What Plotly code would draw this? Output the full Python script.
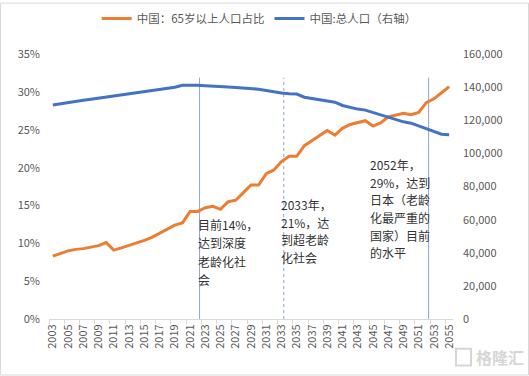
import plotly.graph_objects as go

# ---------------- data ----------------
years = list(range(2003, 2056))
elderly_share = [  # 中国：65岁以上人口占比 (%)
    8.3, 8.7, 9.0, 9.2, 9.3, 9.5, 9.7, 10.1, 9.1, 9.4,
    9.7, 10.0, 10.4, 10.8, 11.3, 11.8, 12.4, 12.7, 14.2, 14.2,
    14.7, 14.9, 14.5, 15.5, 15.7, 16.7, 17.7, 17.7, 19.2, 19.7,
    20.8, 21.5, 21.5, 22.9, 23.6, 24.3, 24.9, 24.3, 25.2, 25.7,
    26.0, 26.2, 25.5, 25.9, 26.7, 26.9, 27.2, 27.0, 27.3, 28.6,
    29.1, 29.9, 30.7,
]
total_pop = [  # 中国:总人口（右轴）(万人)
    129300, 129900, 130600, 131300, 132100, 132800, 133500, 134100, 134700, 135400,
    136100, 136800, 137500, 138300, 139000, 139500, 140000, 141200, 141300, 141200,
    140900, 140800, 140500, 140200, 139900, 139600, 139200, 138800, 138000, 137200,
    136500, 136100, 135900, 134000, 133300, 132500, 131600, 131000, 129000, 127900,
    126800, 126200, 124800, 123500, 122000, 120500, 119100, 118300, 116600, 114600,
    113000, 111600, 111300,
]
tick_years = years[::2]
tick_labels = [str(y) for y in tick_years]
marker_years = [2022.25, 2033.3, 2052.3]
marker_dash = ["solid", "dot", "solid"]
note_texts = [
    ["目前14%，", "达到深度", "老龄化社", "会"],
    ["2033年，", "21%，达", "到超老龄", "化社会"],
    ["2052年，", "29%，达到", "日本（老龄", "化最严重的", "国家）目前", "的水平"],
]
series_names = ["中国：65岁以上人口占比", "中国:总人口（右轴）"]

# ---------------- layout geometry ----------------
W, H = 529, 376
L, R, T, B = 49, 76, 52, 57
PW, PH = W - L - R, H - T - B


def px_x(px):
    return (px - L) / PW


def px_y(py):
    return (H - B - py) / PH


note_pos = [(196, 223.3, 18.7), (279, 203.3, 18.0), (367.5, 163.3, 17.8)]

FONT = "Noto Sans CJK SC, Liberation Sans, sans-serif"
GRAY = "#595959"

fig = go.Figure()
fig.add_trace(go.Scatter(
    x=years, y=elderly_share, name=series_names[0], mode="lines",
    line=dict(color="#ED7D31", width=3), yaxis="y"))
fig.add_trace(go.Scatter(
    x=years, y=total_pop, name=series_names[1], mode="lines",
    line=dict(color="#4472C4", width=3), yaxis="y2"))

shapes = []
for yr, dsh in zip(marker_years, marker_dash):
    shapes.append(dict(type="line", xref="x", yref="y", x0=yr, x1=yr, y0=0, y1=31.9,
                       line=dict(color="#8EA5D3", width=1, dash=dsh), layer="below"))
# outer chart border
shapes.append(dict(type="rect", xref="paper", yref="paper",
                   x0=px_x(0.5), x1=px_x(W - 0.5), y0=px_y(H - 0.5), y1=px_y(0.5),
                   line=dict(color="#D9D9D9", width=1), fillcolor="rgba(0,0,0,0)"))
# watermark icon frame
shapes.append(dict(type="rect", xref="paper", yref="paper",
                   x0=px_x(456), x1=px_x(471), y0=px_y(366), y1=px_y(349),
                   line=dict(color="#D6D6D6", width=2), fillcolor="rgba(0,0,0,0)"))

annotations = []
for lines, (lx, ty, sp) in zip(note_texts, note_pos):
    for i, t in enumerate(lines):
        annotations.append(dict(text=t, xref="paper", yref="paper",
                                x=px_x(lx), y=px_y(ty + i * sp),
                                xanchor="left", yanchor="middle", showarrow=False,
                                font=dict(family=FONT, size=12, color="#333333")))
annotations.append(dict(text="<b>格隆汇</b>", xref="paper", yref="paper",
                        x=px_x(474), y=px_y(357.5), xanchor="left", yanchor="middle",
                        showarrow=False, font=dict(family=FONT, size=16, color="#D6D6D6")))

fig.update_layout(
    width=W, height=H,
    margin=dict(l=L, r=R, t=T, b=B, pad=0),
    paper_bgcolor="white", plot_bgcolor="white",
    font=dict(family=FONT, size=11, color=GRAY),
    showlegend=True,
    legend=dict(orientation="h", xref="container", yref="container",
                x=0.49, y=1 - 18.5 / H, xanchor="center", yanchor="middle",
                font=dict(family=FONT, size=11.5, color=GRAY),
                itemwidth=30, tracegroupgap=0, bgcolor="rgba(0,0,0,0)"),
    xaxis=dict(type="linear", range=[2002.5, 2055.5],
               tickmode="array", tickvals=tick_years, ticktext=tick_labels,
               tickangle=-90, ticks="", showgrid=False, zeroline=False,
               showline=True, linecolor="#D9D9D9", linewidth=1,
               tickfont=dict(family=FONT, size=11, color=GRAY),
               minor=dict(tickvals=[y - 0.5 for y in tick_years], ticks="outside",
                          ticklen=4, tickcolor="#D9D9D9", showgrid=False)),
    yaxis=dict(range=[0, 35], dtick=5, ticksuffix="%", showgrid=False, zeroline=False,
               showline=False, ticks="", ticklabelstandoff=8,
               tickfont=dict(family=FONT, size=11, color=GRAY)),
    yaxis2=dict(range=[0, 160000], dtick=20000, tickformat=",", overlaying="y",
                side="right", showgrid=False, zeroline=False, showline=False,
                ticks="", ticklabelstandoff=9,
                tickfont=dict(family=FONT, size=11, color=GRAY)),
    shapes=shapes,
    annotations=annotations,
)

fig.write_html("out.html", config={"displayModeBar": False},
               post_script="document.body.style.margin='0';document.body.style.overflow='hidden';")
